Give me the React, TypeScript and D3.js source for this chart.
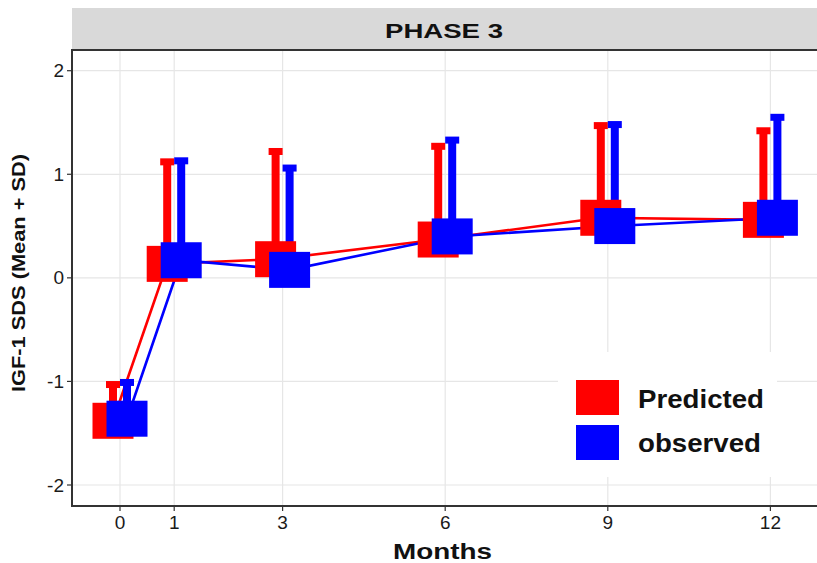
import React from "react";
import * as d3 from "d3";

// Visit months and group summaries (mean SDS and the mean + SD upper limit)
const months = [0, 1, 3, 6, 9, 12];
const predictedMean = [-1.38, 0.135, 0.18, 0.37, 0.58, 0.56];
const predictedUpper = [-1.03, 1.12, 1.22, 1.27, 1.47, 1.42];
const observedMean = [-1.36, 0.17, 0.077, 0.4, 0.5, 0.58];
const observedUpper = [-1.01, 1.13, 1.06, 1.33, 1.48, 1.55];

const yTicks = [-2, -1, 0, 1, 2];
const xTicks = months;
const seriesNames = ["Predicted", "observed"];
const seriesColors = ["#ff0000", "#0000ff"];
const panelTitle = "PHASE 3";
const xTitle = "Months";
const yTitle = "IGF-1 SDS (Mean + SD)";

const W = 817;
const H = 563;
const panel = { left: 72, right: 817, top: 50, bottom: 506 };
const font = "'Liberation Sans', Arial, Helvetica, sans-serif";

export default function App() {
  const x = d3.scaleLinear().domain([0, 12]).range([120, 770.4]);
  const y = d3.scaleLinear().domain([-2, 2]).range([485, 70.7]);

  const dodge = [-7, 7];
  const boxW = 41;
  const boxH = 36;
  const stemW = 8;
  const capW = 14;
  const capH = 7;

  const series = [
    { name: seriesNames[0], color: seriesColors[0], mean: predictedMean, upper: predictedUpper, dx: dodge[0] },
    { name: seriesNames[1], color: seriesColors[1], mean: observedMean, upper: observedUpper, dx: dodge[1] },
  ];

  const line = (s: typeof series[number]) =>
    d3
      .line<number>()
      .x((_, i) => x(months[i]) + s.dx)
      .y((v) => y(v))(s.mean) || "";

  const gridColor = "#e6e6e6";
  const axisColor = "#333333";
  const textColor = "#1a1a1a";

  return (
    <svg
      width={W}
      height={H}
      viewBox={`0 0 ${W} ${H}`}
      style={{ position: "absolute", left: 0, top: 0, background: "#fff" }}
      fontFamily={font}
    >
      <rect x={0} y={0} width={W} height={H} fill="#ffffff" />

      {/* facet strip */}
      <rect x={panel.left} y={8} width={panel.right - panel.left} height={panel.top - 8} fill="#d9d9d9" />
      <text
        x={444}
        y={38}
        textAnchor="middle"
        fontSize={21}
        fontWeight="bold"
        fill="#111"
        textLength={118}
        lengthAdjust="spacingAndGlyphs"
      >
        {panelTitle}
      </text>

      {/* grid */}
      {yTicks.map((t) => (
        <line key={`gy${t}`} x1={panel.left} x2={panel.right} y1={y(t)} y2={y(t)} stroke={gridColor} strokeWidth={1.2} />
      ))}
      {xTicks.map((t) => (
        <line key={`gx${t}`} x1={x(t)} x2={x(t)} y1={panel.top} y2={panel.bottom} stroke={gridColor} strokeWidth={1.2} />
      ))}

      {/* connecting lines */}
      {series.map((s) => (
        <path key={`l${s.name}`} d={line(s)} fill="none" stroke={s.color} strokeWidth={2.6} />
      ))}

      {/* error bars: mean to mean + SD */}
      {series.map((s) =>
        months.map((m, i) => {
          const cx = x(m) + s.dx;
          const top = y(s.upper[i]);
          const bottom = y(s.mean[i]);
          return (
            <g key={`e${s.name}${m}`} fill={s.color}>
              <rect x={cx - stemW / 2} y={top} width={stemW} height={bottom - top} />
              <rect x={cx - capW / 2} y={top - capH / 2} width={capW} height={capH} />
            </g>
          );
        })
      )}

      {/* mean markers */}
      {series.map((s) =>
        months.map((m, i) => (
          <rect
            key={`p${s.name}${m}`}
            x={x(m) + s.dx - boxW / 2}
            y={y(s.mean[i]) - boxH / 2}
            width={boxW}
            height={boxH}
            fill={s.color}
          />
        ))
      )}

      {/* panel edges */}
      <line x1={panel.left} x2={panel.right} y1={panel.top} y2={panel.top} stroke={axisColor} strokeWidth={2} />
      <line x1={panel.left} x2={panel.left} y1={panel.top - 1} y2={panel.bottom + 1} stroke={axisColor} strokeWidth={2} />
      <line x1={panel.left - 1} x2={panel.right} y1={panel.bottom} y2={panel.bottom} stroke={axisColor} strokeWidth={2} />

      {/* y axis ticks */}
      {yTicks.map((t) => (
        <g key={`ty${t}`}>
          <line x1={panel.left - 5} x2={panel.left} y1={y(t)} y2={y(t)} stroke={axisColor} strokeWidth={1.2} />
          <text x={panel.left - 8} y={y(t) + 6.5} textAnchor="end" fontSize={19} fill={textColor}>
            {t}
          </text>
        </g>
      ))}

      {/* x axis ticks */}
      {xTicks.map((t) => (
        <g key={`tx${t}`}>
          <line x1={x(t)} x2={x(t)} y1={panel.bottom} y2={panel.bottom + 5} stroke={axisColor} strokeWidth={1.2} />
          <text x={x(t)} y={panel.bottom + 23} textAnchor="middle" fontSize={19} fill={textColor}>
            {t}
          </text>
        </g>
      ))}

      {/* axis titles */}
      <text
        x={442.5}
        y={559}
        textAnchor="middle"
        fontSize={22}
        fontWeight="bold"
        fill="#111"
        textLength={99}
        lengthAdjust="spacingAndGlyphs"
      >
        {xTitle}
      </text>
      <text
        transform={`translate(25, 273) rotate(-90)`}
        textAnchor="middle"
        fontSize={19}
        fontWeight="bold"
        fill="#111"
        textLength={238}
        lengthAdjust="spacingAndGlyphs"
      >
        {yTitle}
      </text>

      {/* legend */}
      <rect x={558} y={352} width={219} height={125} fill="#ffffff" />
      {series.map((s, i) => (
        <g key={`lg${s.name}`}>
          <rect x={576} y={380 + i * 45} width={43} height={35} fill={s.color} />
          <text
            x={638}
            y={408 + i * 44}
            fontSize={25}
            fontWeight="bold"
            fill="#111"
            textLength={i === 0 ? 126 : 123}
            lengthAdjust="spacingAndGlyphs"
          >
            {s.name}
          </text>
        </g>
      ))}
    </svg>
  );
}
